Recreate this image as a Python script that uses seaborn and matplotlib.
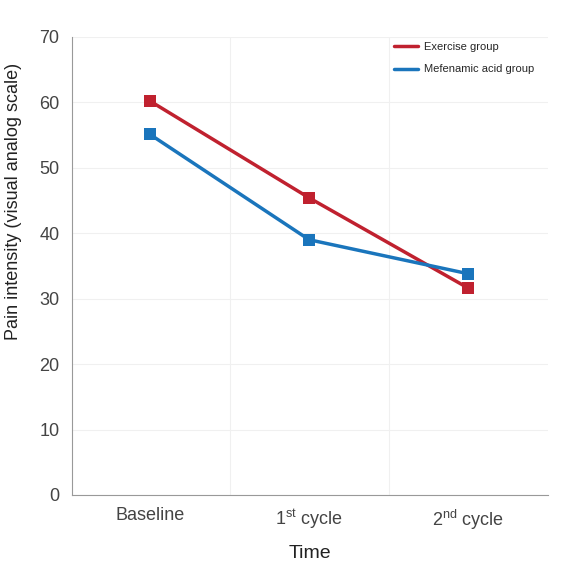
import pandas as pd
import matplotlib.pyplot as plt
import seaborn as sns

# datos
tiempos = ["Baseline", "1st cycle", "2nd cycle"]
etiquetas_x = ["Baseline", "1$^{\\mathrm{st}}$ cycle", "2$^{\\mathrm{nd}}$ cycle"]
grupos = ["Exercise group", "Mefenamic acid group"]
ejercicio = [60.2, 45.4, 31.6]
mefenamico = [55.1, 39.0, 33.8]
colores = ["#c0212f", "#1a75bc"]

df = pd.DataFrame({
    "Time": tiempos * 2,
    "Pain": ejercicio + mefenamico,
    "Grupo": [grupos[0]] * 3 + [grupos[1]] * 3,
})

sns.set_style("white")
plt.rcParams["font.family"] = ["Liberation Sans", "DejaVu Sans"]
plt.rcParams["mathtext.fontset"] = "custom"
plt.rcParams["mathtext.rm"] = "Liberation Sans"

fig = plt.figure(figsize=(5.62, 5.67), dpi=100)
ax = fig.add_axes([0.128, 0.127, 0.847, 0.808])

sns.lineplot(data=df, x="Time", y="Pain", hue="Grupo", palette=colores,
             marker="s", markersize=8, markeredgewidth=0, linewidth=2.5,
             sort=False, ax=ax)

ax.set_ylim(0, 70)
ax.set_xlim(-0.49, 2.5)
ax.set_yticks(range(0, 71, 10))
ax.set_xticks([0, 1, 2])
ax.set_xticklabels(etiquetas_x)
ax.set_xticks([0.5, 1.5], minor=True)
ax.tick_params(axis="both", which="both", length=0, labelsize=13, colors="#444444", pad=9)
ax.grid(True, axis="y", color="#f0f0f0", linewidth=0.8)
ax.grid(True, axis="x", which="minor", color="#f0f0f0", linewidth=0.8)
ax.set_axisbelow(True)

for lado in ["top", "right"]:
    ax.spines[lado].set_visible(False)
for lado in ["left", "bottom"]:
    ax.spines[lado].set_color("#999999")
    ax.spines[lado].set_linewidth(0.8)

ax.set_xlabel("Time", fontsize=14, color="#222222", labelpad=10)
ax.set_ylabel("Pain intensity (visual analog scale)", fontsize=13, color="#222222")
ax.yaxis.set_label_coords(-0.105, 0.64)

leg = ax.legend(loc="upper left", bbox_to_anchor=(0.655, 1.01), frameon=False,
                fontsize=8, handlelength=2.2, handletextpad=0.5, labelspacing=1.1)
for h in leg.get_lines():
    h.set_marker("")

plt.savefig("out.png", dpi=100)
